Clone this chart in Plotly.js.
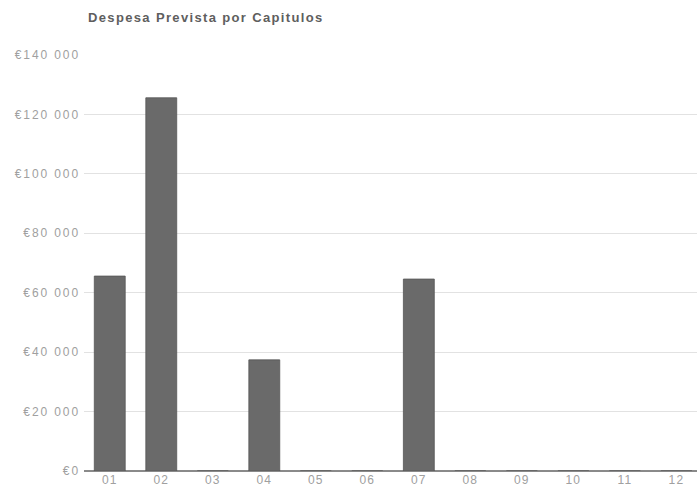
<!DOCTYPE html>
<html>
<head>
<meta charset="utf-8">
<script src="https://cdn.plot.ly/plotly-3.0.1.min.js"></script>
<style>
html,body{margin:0;padding:0;background:#fff;}
#chart{width:697px;height:501px;}
.gtitle{letter-spacing:1.35px;}
.ytick text{letter-spacing:1.9px;}
.xtick text{letter-spacing:1.2px;}
</style>
</head>
<body>
<div id="chart"></div>
<script>
const categories = ["01","02","03","04","05","06","07","08","09","10","11","12"];
const values = [65600, 125600, 0, 37400, 0, 0, 64600, 0, 0, 0, 0, 0];
const yTicks = [0, 20000, 40000, 60000, 80000, 100000, 120000, 140000];
const yTickLabels = ["\u20AC0", "\u20AC20 000", "\u20AC40 000", "\u20AC60 000", "\u20AC80 000", "\u20AC100 000", "\u20AC120 000", "\u20AC140 000"];

const trace = {
  type: 'bar',
  x: categories,
  y: values,
  width: 0.6,
  marker: {color: '#6a6a6a', line: {color: '#555555', width: 0.8}},
  hoverinfo: 'x+y'
};

const layout = {
  width: 697, height: 501,
  margin: {l: 84, r: 0, t: 55, b: 30, pad: 0},
  paper_bgcolor: '#fff', plot_bgcolor: '#fff',
  title: {text: '<b>Despesa Prevista por Capitulos</b>', x: 88/697, xanchor: 'left', y: 1 - 17/501, yanchor: 'middle',
          font: {family: 'Liberation Sans, Arial, sans-serif', size: 13, color: '#5e5e5e'}},
  showlegend: false,
  xaxis: {type: 'category', range: [-0.5, 11.4], showgrid: false, zeroline: false,
          showline: false, ticks: '', tickfont: {family: 'Liberation Sans, Arial, sans-serif', size: 12, color: '#a0a0a0'}},
  yaxis: {range: [0, 140000], tickmode: 'array', tickvals: yTicks, ticktext: yTickLabels,
          showgrid: true, gridcolor: '#e2e2e2', gridwidth: 1, zeroline: true, zerolinecolor: '#8a8a8a', zerolinewidth: 1.5,
          ticks: '', ticklabelstandoff: 3,
          tickfont: {family: 'Liberation Sans, Arial, sans-serif', size: 12, color: '#a0a0a0'}}
};

Plotly.newPlot('chart', [trace], layout, {displayModeBar: false, staticPlot: true});
</script>
</body>
</html>
